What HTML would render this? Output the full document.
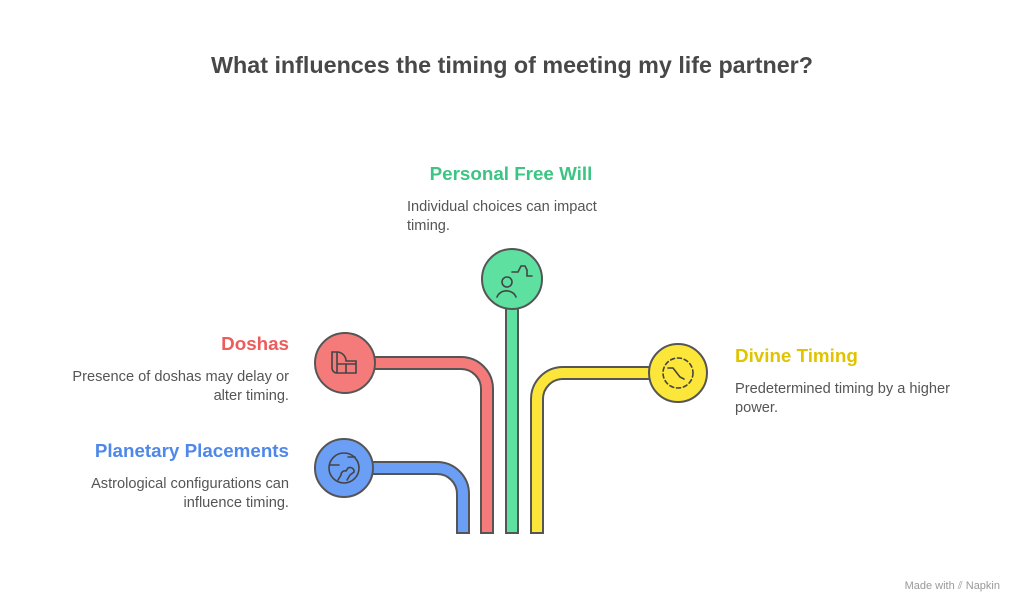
<!DOCTYPE html>
<html><head><meta charset="utf-8"><style>
body{margin:0;width:1024px;height:615px;background:#fff;position:relative;overflow:hidden;font-family:"Liberation Sans",Arial,sans-serif;}
.t{position:absolute;white-space:nowrap;}
.h{font-weight:bold;font-size:18.8px;}
.b{font-size:14.6px;color:#555;line-height:19px;}
</style></head><body>
<div class="t" style="left:0;width:1024px;text-align:center;top:52px;font-size:23.3px;font-weight:bold;color:#484848">What influences the timing of meeting my life partner?</div>

<div class="t h" style="left:411px;width:200px;text-align:center;top:163px;color:#3cc483">Personal Free Will</div>
<div class="t b" style="left:407px;top:198px">Individual choices can impact<br>timing.</div>

<div class="t h" style="right:735px;top:333px;color:#ee5b5b">Doshas</div>
<div class="t b" style="right:735px;top:368px;text-align:right">Presence of doshas may delay or<br>alter timing.</div>

<div class="t h" style="right:735px;top:440px;color:#4f88e8">Planetary Placements</div>
<div class="t b" style="right:735px;top:475px;text-align:right">Astrological configurations can<br>influence timing.</div>

<div class="t h" style="left:735px;top:345px;color:#e0c400">Divine Timing</div>
<div class="t b" style="left:735px;top:380px">Predetermined timing by a higher<br>power.</div>

<div class="t" style="right:24px;top:580px;font-size:11px;color:#999">Made with ⫽ Napkin</div>

<svg width="1024" height="615" style="position:absolute;left:0;top:0" fill="none">
<g stroke="#555" stroke-width="2">
<path d="M360 462 H437 A32 32 0 0 1 469 494 V533 H457 V494 A20 20 0 0 0 437 474 H360 Z" fill="#6b9ef5"/>
<path d="M360 357 H461 A32 32 0 0 1 493 389 V533 H481 V389 A20 20 0 0 0 461 369 H360 Z" fill="#f57b7b"/>
<rect x="506" y="305" width="12" height="228" fill="#5ee0a0"/>
<path d="M660 367 H563 A32 32 0 0 0 531 399 V533 H543 V399 A20 20 0 0 1 563 379 H660 Z" fill="#fde63a"/>
<circle cx="512" cy="279" r="30" fill="#5ee0a0"/>
<circle cx="345" cy="363" r="30" fill="#f57b7b"/>
<circle cx="678" cy="373" r="29" fill="#fde63a"/>
<circle cx="344" cy="468" r="29" fill="#6b9ef5"/>
</g>
<g stroke="#444" stroke-width="1.6" stroke-linecap="round">
<circle cx="507" cy="282" r="5"/><path d="M497 297 a10 9 0 0 1 19 0"/>
<path d="M512 272 h6 l3 -6 h4 l2 4 v6 h5"/>
<path d="M332 352 h5 a9 9 0 0 1 9 9 v0 h10 v12 h-19 a5 5 0 0 1 -5 -5 Z M337 352 v21 M337 364 h19 M346 364 v9"/>
<circle cx="678" cy="373" r="15" stroke-dasharray="4 3"/><path d="M668 368 h5 l7 9 l4 2"/>
<circle cx="344" cy="468" r="15"/><path d="M330 465 h9 M348 457 h7 M338 480 l3 -5 a4 4 0 0 1 5 -4 l2 -3 a4 4 0 0 1 6 4 l-4 3 l-3 5"/>
</g>
</svg>
</body></html>
